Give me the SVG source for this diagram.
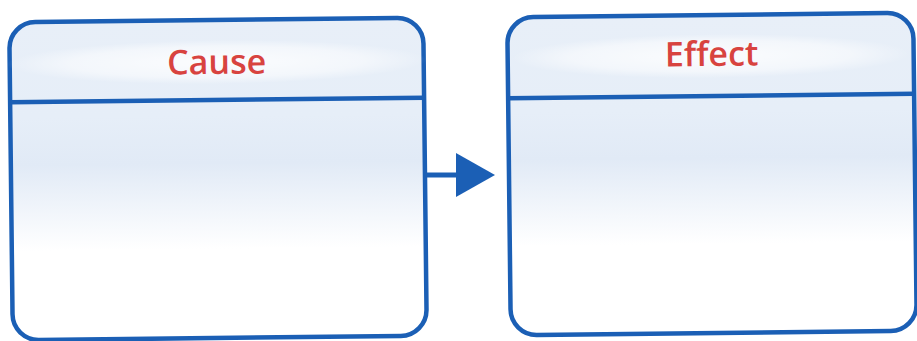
<svg xmlns="http://www.w3.org/2000/svg" width="917" height="341" viewBox="0 0 917 341">
<style>
.box{fill:url(#body);stroke:#1b5fb5;stroke-width:4.5}
.div{stroke:#1b5fb5;stroke-width:4.5}
.lbl{font-family:"Open Sans","Liberation Sans",sans-serif;font-weight:600;font-size:34px;fill:#d8433f;text-anchor:middle}
.conn{stroke:#1b5fb5;stroke-width:5;fill:none}
</style>
<defs>
<linearGradient id="body" x1="0" y1="0" x2="0" y2="1">
<stop offset="0" stop-color="#e8eff8"/>
<stop offset="0.3" stop-color="#e6eef8"/>
<stop offset="0.45" stop-color="#e1eaf6"/>
<stop offset="0.72" stop-color="#ffffff"/>
<stop offset="1" stop-color="#ffffff"/>
</linearGradient>
<radialGradient id="band" cx="0.5" cy="0.5" r="0.5">
<stop offset="0" stop-color="#ffffff" stop-opacity="0.85"/>
<stop offset="0.7" stop-color="#ffffff" stop-opacity="0.5"/>
<stop offset="1" stop-color="#ffffff" stop-opacity="0"/>
</radialGradient>
</defs>
<g id="cause" transform="rotate(-0.65 217 179)">
<rect class="box" x="11" y="20" width="414" height="318" rx="26"/>
<ellipse cx="218" cy="62" rx="210" ry="22" fill="url(#band)"/>
<line class="div" x1="11" y1="100" x2="425" y2="100"/>
<text class="lbl" x="218" y="74">Cause</text>
</g>
<g id="effect" transform="rotate(-0.65 712 174)">
<rect class="box" x="509" y="15" width="406" height="318" rx="26"/>
<ellipse cx="712" cy="56" rx="200" ry="22" fill="url(#band)"/>
<line class="div" x1="509" y1="96" x2="915" y2="96"/>
<text class="lbl" x="713" y="66">Effect</text>
</g>
<g id="connectors">
<line class="conn" x1="427" y1="175" x2="458" y2="175"/>
<polygon points="456,153 495,175 456,197" fill="#1b5fb5"/>
</g>
</svg>
